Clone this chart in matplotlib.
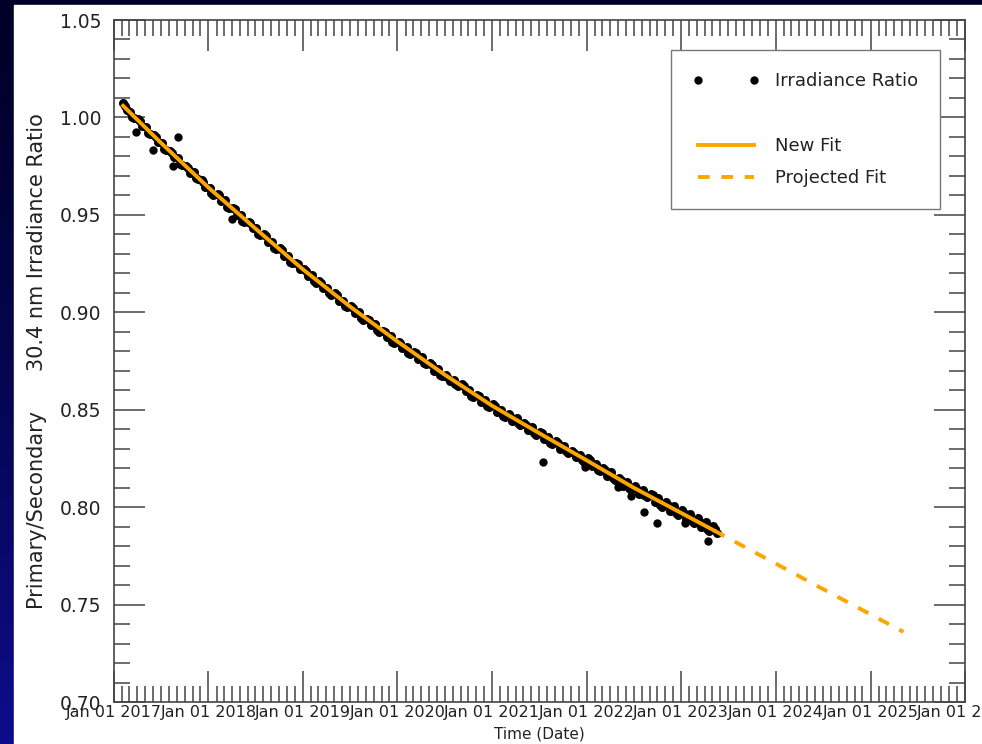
import numpy as np
import pandas as pd
import matplotlib
matplotlib.use('Agg')
import matplotlib.pyplot as plt
import matplotlib.dates as mdates
from matplotlib.patches import Rectangle
from matplotlib.lines import Line2D

# semi-monthly ratio samples (days 5 and 20 of each month), Feb 2017 .. May 2023
ratio = [
    # 2017 Feb..Dec
    1.0075, 1.0040, 1.0030, 0.9995, 0.9990, 0.9955, 0.9950, 0.9915, 0.9910, 0.9875,
    0.9870, 0.9835, 0.9830, 0.9795, 0.9790, 0.9755, 0.9750, 0.9715, 0.9720, 0.9685,
    0.9680, 0.9645,
    # 2018
    0.9640, 0.9600, 0.9605, 0.9570, 0.9575, 0.9535, 0.9535, 0.9500, 0.9500, 0.9465,
    0.9465, 0.9430, 0.9430, 0.9395, 0.9400, 0.9360, 0.9360, 0.9325, 0.9330, 0.9290,
    0.9290, 0.9255, 0.9255, 0.9220,
    # 2019
    0.9220, 0.9185, 0.9190, 0.9150, 0.9160, 0.9125, 0.9125, 0.9090, 0.9100, 0.9060,
    0.9060, 0.9025, 0.9030, 0.8995, 0.9000, 0.8960, 0.8965, 0.8935, 0.8940, 0.8900,
    0.8905, 0.8875, 0.8880, 0.8840,
    # 2020
    0.8850, 0.8815, 0.8820, 0.8785, 0.8795, 0.8760, 0.8770, 0.8735, 0.8740, 0.8700,
    0.8710, 0.8675, 0.8680, 0.8645, 0.8655, 0.8620, 0.8630, 0.8595, 0.8600, 0.8565,
    0.8575, 0.8540, 0.8550, 0.8515,
    # 2021
    0.8530, 0.8490, 0.8500, 0.8465, 0.8480, 0.8440, 0.8455, 0.8420, 0.8430, 0.8395,
    0.8410, 0.8370, 0.8385, 0.8350, 0.8360, 0.8325, 0.8340, 0.8300, 0.8315, 0.8280,
    0.8290, 0.8255, 0.8270, 0.8230,
    # 2022
    0.8250, 0.8210, 0.8220, 0.8185, 0.8200, 0.8160, 0.8180, 0.8140, 0.8150, 0.8110,
    0.8130, 0.8090, 0.8110, 0.8070, 0.8090, 0.8050, 0.8070, 0.8025, 0.8045, 0.8000,
    0.8025, 0.7980, 0.8005, 0.7960,
    # 2023 Jan..May
    0.7985, 0.7940, 0.7965, 0.7920, 0.7945, 0.7900, 0.7925, 0.7880, 0.7905, 0.7865,
]
# mid-month samples (day 12), Feb 2017 .. May 2023
ratio_mid = [
    1.0060, 1.0000, 0.9980, 0.9920, 0.9900, 0.9840, 0.9820, 0.9760, 0.9740, 0.9690, 0.9670,
    0.9610, 0.9600, 0.9540, 0.9530, 0.9470, 0.9460, 0.9400, 0.9390, 0.9330, 0.9320, 0.9260, 0.9250,
    0.9210, 0.9160, 0.9150, 0.9100, 0.9090, 0.9030, 0.9020, 0.8970, 0.8960, 0.8910, 0.8900, 0.8850,
    0.8840, 0.8790, 0.8790, 0.8740, 0.8730, 0.8680, 0.8670, 0.8630, 0.8620, 0.8570, 0.8570, 0.8520,
    0.8520, 0.8470, 0.8470, 0.8430, 0.8420, 0.8380, 0.8380, 0.8330, 0.8330, 0.8290, 0.8280, 0.8240,
    0.8240, 0.8190, 0.8190, 0.8150, 0.8140, 0.8100, 0.8100, 0.8060, 0.8060, 0.8010, 0.8010, 0.7970,
    0.7970, 0.7930, 0.7930, 0.7890, 0.7890,
]
months = pd.date_range('2017-02-01', '2023-05-01', freq='MS')
ratio_dates = [m + pd.Timedelta(days=d) for m in months for d in (4, 19)]
mid_dates = [m + pd.Timedelta(days=11) for m in months]

# isolated outliers
outlier_dates = pd.to_datetime(['2017-03-28', '2017-05-30', '2017-08-15', '2017-09-05',
                                '2018-04-01', '2021-07-15', '2021-12-25', '2022-05-01',
                                '2022-06-20', '2022-08-10', '2022-10-01', '2023-01-15',
                                '2023-04-15'])
outlier_vals = [0.9925, 0.9833, 0.975, 0.990, 0.948, 0.823, 0.8206, 0.8103,
                0.8057, 0.7975, 0.7919, 0.7919, 0.7826]

fit_dates = pd.to_datetime(['2017-02-05', '2017-07-01', '2018-01-01', '2018-07-01',
                            '2019-01-01', '2019-07-01', '2020-01-01', '2020-07-01',
                            '2021-01-01', '2021-07-01', '2022-01-01', '2022-07-01',
                            '2023-01-01', '2023-05-08'])
fit_vals = [1.006, 0.987, 0.964, 0.943, 0.922, 0.903, 0.885, 0.868,
            0.852, 0.838, 0.824, 0.810, 0.797, 0.788]

proj_dates = pd.to_datetime(['2023-05-08', '2024-01-01', '2024-07-01', '2025-01-01', '2025-05-08'])
proj_vals = [0.788, 0.771, 0.758, 0.745, 0.736]

W, H = 982, 744
fig = plt.figure(figsize=(W / 100, H / 100), dpi=100)
fig.patch.set_facecolor('#000028')

# slide-style background gradient
bg = fig.add_axes([0, 0, 1, 1], zorder=-10)
yy = np.linspace(0, 1, 200)[:, None]
top = np.array([0.0, 0.0, 0.16])
bot = np.array([0.05, 0.05, 0.55])
grad = top + (bot - top) * yy[..., None] ** 1.3
grad = np.repeat(grad, 2, axis=1)
bg.imshow(grad, aspect='auto', extent=[0, 1, 0, 1], origin='upper')
bg.add_patch(Rectangle((14 / W, 0), 1, 1 - 5 / H, color='white', transform=bg.transAxes))
bg.set_axis_off()

ax = fig.add_axes([114 / W, 1 - 702 / H, (965 - 114) / W, (702 - 20) / H])
ax.scatter(ratio_dates, ratio, s=42, color='black', linewidths=0, zorder=2)
ax.scatter(mid_dates, ratio_mid, s=42, color='black', linewidths=0, zorder=2)
ax.scatter(outlier_dates, outlier_vals, s=36, color='black', linewidths=0, zorder=2)
ax.plot(fit_dates, fit_vals, color='#FFA500', lw=2.8, zorder=3)
ax.plot(proj_dates, proj_vals, color='#FFA500', lw=2.8, dashes=(3, 3), zorder=3)

ax.set_xlim(pd.Timestamp('2017-01-01'), pd.Timestamp('2026-01-01'))
ax.set_ylim(0.70, 1.05)
ax.xaxis.set_major_locator(mdates.YearLocator())
ax.xaxis.set_major_formatter(mdates.DateFormatter('%b %d %Y'))
ax.xaxis.set_minor_locator(mdates.MonthLocator())
ax.set_yticks(np.arange(0.70, 1.051, 0.05))
ax.set_yticks(np.arange(0.70, 1.051, 0.01), minor=True)
ax.yaxis.set_major_formatter(matplotlib.ticker.FormatStrFormatter('%.2f'))

ax.tick_params(which='both', direction='in', top=True, right=True, color='#444444', width=1.1)
ax.tick_params(which='major', length=22.5)
ax.tick_params(which='minor', length=11.5)
ax.tick_params(axis='x', labelsize=11.5, pad=2, labelcolor='#222222')
ax.tick_params(axis='y', labelsize=13.5, pad=9, labelcolor='#222222')
for s in ax.spines.values():
    s.set_color('#444444')
    s.set_linewidth(1.2)

ax.set_xlabel('Time (Date)', fontsize=11, labelpad=5, color='#222222')
ax.set_ylabel('Primary/Secondary      30.4 nm Irradiance Ratio', fontsize=15, color='#222222')
ax.yaxis.set_label_coords(-0.079, 0.5)

handles = [
    Line2D([], [], ls='none', marker='o', color='black', markersize=5),
    Line2D([], [], ls='none'),
    Line2D([], [], color='#FFA500', lw=2.8),
    Line2D([], [], color='#FFA500', lw=2.8, dashes=(3, 3)),
]
labels = ['Irradiance Ratio', ' ', 'New Fit', 'Projected Fit']
leg = ax.legend(handles, labels, loc='upper right', bbox_to_anchor=(0.9706, 0.956),
                borderaxespad=0, fontsize=13, handlelength=3.7, handletextpad=0.85,
                labelspacing=0.8, borderpad=1.22, numpoints=2, fancybox=False,
                framealpha=1, edgecolor='#777777')
leg.get_frame().set_linewidth(1.0)
for t in leg.get_texts():
    t.set_color('#222222')

fig.savefig('out.png', dpi=100, facecolor=fig.get_facecolor())
